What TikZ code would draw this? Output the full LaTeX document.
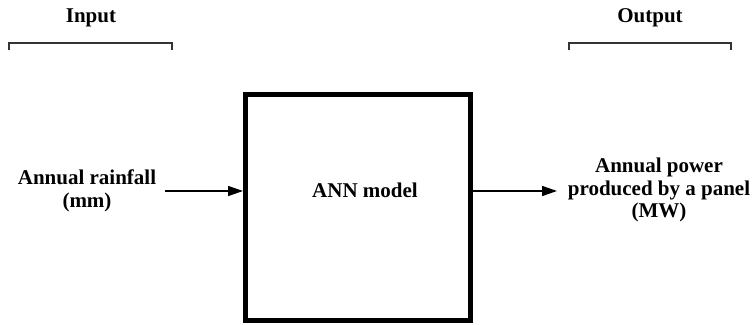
\documentclass[tikz,border=0pt]{standalone}
\usepackage{fontspec}
\setmainfont{Liberation Serif}
\usetikzlibrary{arrows.meta}
\tikzset{
    model-box/.style = {draw=black, line width=5pt, rectangle, minimum width=225pt, minimum height=226pt, inner sep=0pt},
    io-label/.style = {align=center, font=\fontsize{21}{22.5}\selectfont\bfseries},
    group-title/.style = {font=\fontsize{21}{22.5}\selectfont\bfseries},
    flow-arrow/.style = {line width=1.5pt, -{Triangle[length=15pt,width=10pt]}},
    bracket-line/.style = {line width=1.5pt, draw=black!80},
}

\begin{document}
\begin{tikzpicture}[x=1pt,y=1pt]
\useasboundingbox (0,0) rectangle (755,324);
\node [model-box] (model) at (358,116.5) {};
\node [io-label] (anntext) at (365,134) {ANN model};
\node [io-label] (rainfall) at (87,133) {Annual rainfall\\(mm)};
\node [io-label] (power) at (659,134) {Annual power\\produced by a panel\\(MW)};
\node [group-title] (inputtitle) at (91,306) {Input};
\node [group-title] (outputtitle) at (650,306) {Output};
\coordinate (inleft) at (9,281);
\coordinate (inright) at (172,281);
\coordinate (outleft) at (569,281);
\coordinate (outright) at (731,281);
\draw [bracket-line] ([yshift=-7pt]inleft) -- (inleft) -- (inright) -- ([yshift=-7pt]inright);
\draw [bracket-line] ([yshift=-7pt]outleft) -- (outleft) -- (outright) -- ([yshift=-7pt]outright);
\draw [flow-arrow] (165,133) -- (model.west |- 0,133);
\draw [flow-arrow] (model.east |- 0,133) -- (557,133);
\end{tikzpicture}
\end{document}
